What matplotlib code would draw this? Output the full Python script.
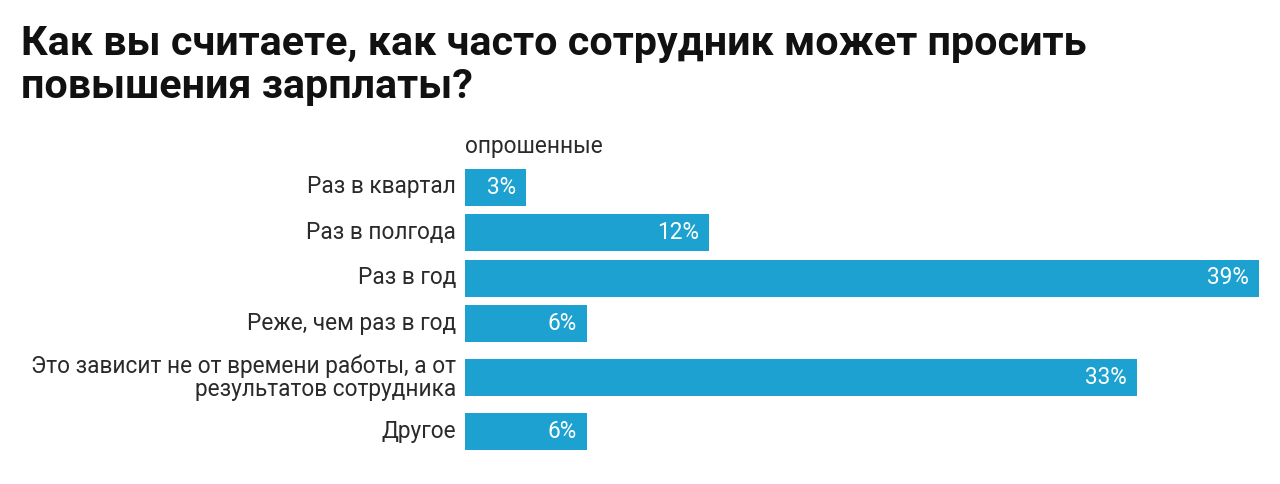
import matplotlib
matplotlib.use("Agg")
import matplotlib.pyplot as plt
from matplotlib.transforms import offset_copy

plt.rcParams['font.family'] = ['Roboto', 'DejaVu Sans']

title = "Как вы считаете, как часто сотрудник может просить\nповышения зарплаты?"
series_name = "опрошенные"
categories = [
    "Раз в квартал",
    "Раз в полгода",
    "Раз в год",
    "Реже, чем раз в год",
    "Это зависит не от времени работы, а от\nрезультатов сотрудника",
    "Другое",
]
values = [3, 12, 39, 6, 33, 6]

W, H, DPI = 1280, 484, 100
BAR_COLOR = "#1ca1d0"
TEXT_COLOR = "#2a2a2a"
FS = 16.3

fig = plt.figure(figsize=(W / DPI, H / DPI), dpi=DPI)
fig.patch.set_facecolor("white")

# axes spans full height in pixel units; x from bar origin to max-bar end
x0_px, x1_px = 465, 1259
ax = fig.add_axes([x0_px / W, 0, (x1_px - x0_px) / W, 1])
ax.set_xlim(0, max(values))
ax.set_ylim(H, 0)
ax.axis("off")

# layout: bar centres in pixel rows
step, extra, first = 45.5, 8.5, 187
centers = []
y = first
for i, c in enumerate(categories):
    if i > 0:
        prev_lines = categories[i - 1].count("\n")
        cur_lines = c.count("\n")
        y += step + extra * (prev_lines + cur_lines)
    centers.append(y)

bar_h = 37
ax.barh(centers, values, height=bar_h, color=BAR_COLOR, left=0)

lab_tr = offset_copy(ax.transData, fig=fig, x=-9, y=0, units="dots")
val_tr = offset_copy(ax.transData, fig=fig, x=-10, y=0, units="dots")
for c, v, yc in zip(categories, values, centers):
    ax.text(0, yc, c, transform=lab_tr, ha="right", va="center",
            multialignment="right", fontsize=FS, color=TEXT_COLOR,
            linespacing=1.02)
    ax.text(v, yc, f"{v}%", transform=val_tr, ha="right", va="center",
            fontsize=FS, color="white")

fig.text(x0_px / W, 1 - 146 / H, series_name, ha="left", va="center",
         fontsize=FS, color=TEXT_COLOR)

fig.text(21 / W, 1 - 25 / H, title, ha="left", va="top", fontsize=29.7,
         fontweight="bold", color="#111111", linespacing=1.18)

fig.savefig("out.png", dpi=DPI, facecolor="white")
